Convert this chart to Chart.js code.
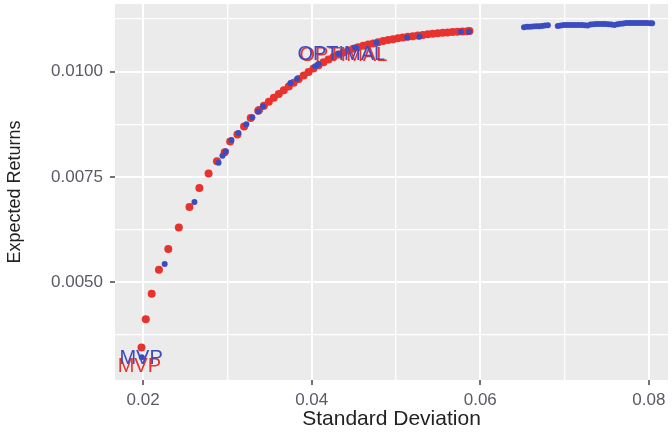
<!DOCTYPE html>
<html>
<head>
<meta charset="utf-8">
<script src="https://cdn.jsdelivr.net/npm/chart.js@4.4.1/dist/chart.umd.min.js"></script>
<style>
  html, body { margin: 0; padding: 0; background: #fff; }
</style>
</head>
<body>
<canvas id="frontierChart" width="672" height="432"></canvas>
<script>
// -------------------------------
// Data --------------------------
// -------------------------------
// red series: standard deviation / expected return
const redSd = [
  0.01981, 0.02032, 0.02102, 0.02188, 0.02299, 0.02424, 0.02550, 0.02668,
  0.02777, 0.02876, 0.02968, 0.03033, 0.03119, 0.03198, 0.03277, 0.03366,
  0.03375, 0.03433, 0.03492, 0.03551, 0.03610, 0.03669, 0.03728, 0.03787,
  0.03846, 0.03905, 0.03963, 0.04022, 0.04081, 0.04140, 0.04199, 0.04258,
  0.04317, 0.04376, 0.04435, 0.04494, 0.04552, 0.04611, 0.04670, 0.04729,
  0.04788, 0.04847, 0.04906, 0.04965, 0.05024, 0.05082, 0.05141, 0.05200,
  0.05259, 0.05318, 0.05377, 0.05436, 0.05495, 0.05554, 0.05612, 0.05671,
  0.05730, 0.05789, 0.05848, 0.05872,
];
const redRet = [
  0.003451, 0.004119, 0.004726, 0.005293, 0.005789, 0.006299, 0.006788, 0.007237,
  0.007579, 0.007874, 0.008087, 0.008340, 0.008505, 0.008696, 0.008897, 0.009072,
  0.009091, 0.009190, 0.009284, 0.009379, 0.009469, 0.009558, 0.009648, 0.009738,
  0.009823, 0.009910, 0.009993, 0.010073, 0.010151, 0.010222, 0.010288, 0.010350,
  0.010406, 0.010456, 0.010501, 0.010543, 0.010579, 0.010612, 0.010642, 0.010671,
  0.010699, 0.010725, 0.010749, 0.010770, 0.010791, 0.010810, 0.010827, 0.010843,
  0.010857, 0.010872, 0.010886, 0.010897, 0.010909, 0.010921, 0.010931, 0.010940,
  0.010947, 0.010954, 0.010961, 0.010964,
];

// blue series: standard deviation / expected return
const blueSd = [
  0.01985, 0.02256, 0.02609, 0.02895, 0.02942, 0.02982, 0.03048, 0.03131,
  0.03225, 0.03296, 0.03366, 0.03422, 0.03748, 0.03826, 0.04042, 0.04081,
  0.04317, 0.04514, 0.04768, 0.05133, 0.05279, 0.05769, 0.05868,
  0.06519, 0.06555, 0.06590, 0.06625, 0.06661, 0.06696, 0.06731, 0.06767,
  0.06802, 0.06920, 0.06955, 0.06991, 0.07026, 0.07061, 0.07097, 0.07132,
  0.07167, 0.07203, 0.07238, 0.07273, 0.07309, 0.07344, 0.07379, 0.07415,
  0.07450, 0.07485, 0.07521, 0.07556, 0.07591, 0.07627, 0.07662, 0.07697,
  0.07733, 0.07768, 0.07803, 0.07839, 0.07874, 0.07909, 0.07945, 0.07980,
  0.08015, 0.08039,
];
const blueRet = [
  0.003221, 0.005435, 0.006906, 0.007834, 0.008004, 0.008111, 0.008377, 0.008543,
  0.008748, 0.008914, 0.009055, 0.009173, 0.009728, 0.009828, 0.010130, 0.010182,
  0.010425, 0.010574, 0.010692, 0.010810, 0.010827, 0.010945, 0.010949,
  0.011056, 0.011063, 0.011063, 0.011070, 0.011075, 0.011079, 0.011086, 0.011094,
  0.011103, 0.011086, 0.011098, 0.011105, 0.011110, 0.011110, 0.011110, 0.011110,
  0.011110, 0.011105, 0.011103, 0.011098, 0.011122, 0.011127, 0.011134, 0.011134,
  0.011134, 0.011134, 0.011127, 0.011117, 0.011110, 0.011127, 0.011138, 0.011145,
  0.011153, 0.011157, 0.011157, 0.011157, 0.011157, 0.011157, 0.011157, 0.011153,
  0.011150, 0.011150,
];

// point labels
const labelText = ["MVP", "MVP", "OPTIMAL", "OPTIMAL"];
const labelSeries = ["red", "blue", "red", "blue"];
const labelSd = [0.01955, 0.01976, 0.04376, 0.04352];
const labelRet = [0.002992, 0.003198, 0.010378, 0.010413];

// axes
const xTicks = [0.02, 0.03, 0.04, 0.05, 0.06, 0.07, 0.08];
const xMajor = [0.02, 0.04, 0.06, 0.08];
const yTicks = [0.00375, 0.005, 0.00625, 0.0075, 0.00875, 0.01, 0.01125];
const yMajor = [0.005, 0.0075, 0.01];

// -------------------------------
// Helpers -----------------------
// -------------------------------
const RED = "#e8322e";
const BLUE = "#3b4cc0";
const FONT = "'Liberation Sans', Arial, sans-serif";
const isMajor = (list, v) => list.some((m) => Math.abs(m - v) < 1e-9);
const toPoints = (xs, ys) => xs.map((x, i) => ({ x: x, y: ys[i] }));

const panelBackground = {
  id: "panelBackground",
  beforeDraw(chart) {
    const { ctx, chartArea } = chart;
    ctx.save();
    ctx.fillStyle = "#ebebeb";
    ctx.fillRect(chartArea.left, chartArea.top,
      chartArea.right - chartArea.left, chartArea.bottom - chartArea.top);
    ctx.restore();
  },
};

const pointLabels = {
  id: "pointLabels",
  afterDatasetsDraw(chart) {
    const { ctx, scales } = chart;
    ctx.save();
    ctx.font = "20px " + FONT;
    ctx.textAlign = "center";
    ctx.textBaseline = "middle";
    labelText.forEach((txt, i) => {
      ctx.fillStyle = labelSeries[i] === "red" ? RED : BLUE;
      ctx.fillText(txt, scales.x.getPixelForValue(labelSd[i]),
        scales.y.getPixelForValue(labelRet[i]));
    });
    ctx.restore();
  },
};

const gridConfig = (major) => ({
  color: "#ffffff",
  lineWidth: (c) => (isMajor(major, c.tick.value) ? 2 : 1.3),
  tickColor: (c) => (isMajor(major, c.tick.value) ? "#444444" : "rgba(0,0,0,0)"),
  tickLength: 5,
  tickWidth: 1.5,
  drawTicks: true,
});

// -------------------------------
// Chart -------------------------
// -------------------------------
const ctx = document.getElementById("frontierChart").getContext("2d");
const frontierChart = new Chart(ctx, {
  type: "scatter",
  data: {
    datasets: [
      {
        label: "blue",
        data: toPoints(blueSd, blueRet),
        backgroundColor: BLUE,
        borderWidth: 0,
        pointRadius: 3,
      },
      {
        label: "red",
        data: toPoints(redSd, redRet),
        backgroundColor: RED,
        borderWidth: 0,
        pointRadius: 4,
      },
    ],
  },
  options: {
    responsive: false,
    animation: false,
    layout: { padding: { top: 2, right: 0, left: 0, bottom: 0 } },
    plugins: { legend: { display: false }, tooltip: { enabled: false } },
    scales: {
      x: {
        type: "linear",
        min: 0.016667,
        max: 0.082273,
        afterBuildTicks: (axis) => { axis.ticks = xTicks.map((v) => ({ value: v })); },
        afterFit: (axis) => {
          axis.height = 52;
          axis.paddingLeft = 0;
          axis.paddingRight = 0;
        },
        grid: gridConfig(xMajor),
        border: { display: false },
        ticks: {
          autoSkip: false,
          maxRotation: 0,
          padding: 5,
          color: "#5a5a66",
          font: { family: FONT, size: 17 },
          callback: (v) => (isMajor(xMajor, v) ? v.toFixed(2) : ""),
        },
        title: {
          display: true,
          text: "Standard Deviation",
          color: "#222222",
          padding: { top: 0, bottom: 0 },
          font: { family: FONT, size: 21 },
        },
      },
      y: {
        type: "linear",
        min: 0.002678,
        max: 0.011606,
        afterBuildTicks: (axis) => { axis.ticks = yTicks.map((v) => ({ value: v })); },
        afterFit: (axis) => {
          axis.width = 115;
          axis.paddingTop = 0;
          axis.paddingBottom = 0;
        },
        grid: gridConfig(yMajor),
        border: { display: false },
        ticks: {
          autoSkip: false,
          padding: 7,
          color: "#5a5a66",
          font: { family: FONT, size: 17 },
          callback: (v) => (isMajor(yMajor, v) ? v.toFixed(4) : ""),
        },
        title: {
          display: true,
          text: "Expected Returns",
          color: "#222222",
          padding: { top: 4, bottom: 0 },
          font: { family: FONT, size: 18 },
        },
      },
    },
  },
  plugins: [panelBackground, pointLabels],
});
</script>
</body>
</html>
